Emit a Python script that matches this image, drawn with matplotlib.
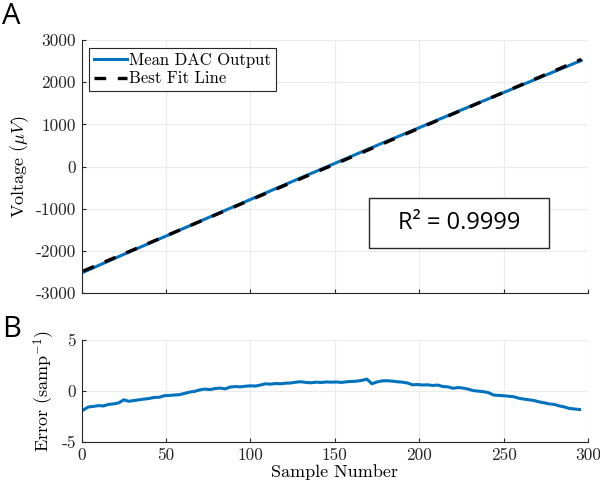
"""
DAC linearity figure: mean output vs best fit (A) and fit error (B)
"""
import numpy as np
import matplotlib
matplotlib.use('Agg')
import matplotlib.pyplot as plt
from matplotlib.patches import Rectangle

# ---------------------------------------------------------------------------------------------------------------------
# Data
# ---------------------------------------------------------------------------------------------------------------------
dac_samples = [1, 25, 50, 75, 100, 125, 150, 175, 200, 225, 250, 275, 296]
dac_output = [-2501, -2077, -1644, -1209, -778, -348, 77, 504, 923, 1343, 1755, 2169, 2514]

err_samples = np.arange(1, 297, 3)
err_values = [-1.85, -1.55, -1.5, -1.42, -1.45, -1.3, -1.25, -1.15, -0.85, -1.0,
              -0.92, -0.85, -0.78, -0.72, -0.62, -0.6, -0.45, -0.42, -0.38, -0.35,
              -0.22, -0.1, -0.02, 0.12, 0.2, 0.15, 0.25, 0.3, 0.22, 0.4,
              0.45, 0.42, 0.48, 0.52, 0.5, 0.6, 0.72, 0.68, 0.75, 0.72,
              0.78, 0.8, 0.88, 0.92, 0.85, 0.82, 0.88, 0.85, 0.9, 0.88,
              0.9, 0.85, 0.92, 0.95, 0.98, 1.05, 1.18, 0.72, 0.9, 1.0,
              1.02, 0.98, 0.92, 0.88, 0.8, 0.62, 0.65, 0.6, 0.62, 0.55,
              0.6, 0.45, 0.42, 0.28, 0.35, 0.3, 0.2, 0.05, 0.0, -0.05,
              -0.15, -0.38, -0.42, -0.45, -0.5, -0.55, -0.7, -0.78, -0.85, -0.92,
              -1.05, -1.15, -1.25, -1.3, -1.45, -1.55, -1.7, -1.75, -1.8]

r_squared = '0.9999'
x_ticks = [0, 50, 100, 150, 200, 250, 300]
v_ticks = [-3000, -2000, -1000, 0, 1000, 2000, 3000]
e_ticks = [-5, 0, 5]

# Best fit from the DAC data
coef = np.polyfit(dac_samples, dac_output, 1)
fit_x = np.array([dac_samples[0], dac_samples[-1]])
fit_y = np.polyval(coef, fit_x)

# ---------------------------------------------------------------------------------------------------------------------
# Style
# ---------------------------------------------------------------------------------------------------------------------
plt.rcParams['font.family'] = 'cmr10'
plt.rcParams['mathtext.fontset'] = 'cm'
plt.rcParams['font.size'] = 12.5
blue = '#0072BD'
axcol = '#262626'
tick_fs = 12.5
label_fs = 13


def style_axes(ax):
    ax.spines['top'].set_visible(False)
    ax.spines['right'].set_visible(False)
    for s in ('left', 'bottom'):
        ax.spines[s].set_color(axcol)
        ax.spines[s].set_linewidth(0.8)
    ax.tick_params(direction='in', length=3, colors=axcol, labelsize=tick_fs, pad=4)
    ax.grid(True, color='#ebebeb', linewidth=0.8)
    ax.set_axisbelow(True)


fig = plt.figure(figsize=(6.0, 4.88), dpi=100)
ax1 = fig.add_axes([0.136, 0.399, 0.844, 0.519])
ax2 = fig.add_axes([0.136, 0.094, 0.844, 0.209])

# ---------------------------------------------------------------------------------------------------------------------
# Panel A
# ---------------------------------------------------------------------------------------------------------------------
ax1.plot(dac_samples, dac_output, color=blue, linewidth=2.2, label='Mean DAC Output')
ax1.plot(fit_x, fit_y, color='black', linewidth=2.4, linestyle=(0, (3.5, 3.5)), label='Best Fit Line')
ax1.set_xlim(0, 300)
ax1.set_ylim(-3000, 3000)
ax1.set_xticks(x_ticks)
ax1.set_xticklabels([])
ax1.set_yticks(v_ticks)
ax1.set_yticklabels([str(v) for v in v_ticks])
ax1.set_ylabel(r'Voltage ($\mu V$)', fontsize=label_fs, labelpad=3)
style_axes(ax1)
leg = ax1.legend(loc='upper left', handlelength=2.0, handletextpad=0.1, borderpad=0.3,
                 labelspacing=0.2, fancybox=False, framealpha=1, fontsize=12,
                 bbox_to_anchor=(0.0, 1.0), borderaxespad=0.45)
leg.get_frame().set_edgecolor(axcol)
leg.get_frame().set_linewidth(0.8)

# R squared box
ax1.add_patch(Rectangle((0.567, 0.178), 0.356, 0.197, transform=ax1.transAxes,
                        facecolor='white', edgecolor=axcol, linewidth=1.0, zorder=5))
ax1.text(0.745, 0.277, 'R² = ' + r_squared, transform=ax1.transAxes, ha='center', va='center',
         family='Open Sans', fontsize=17, zorder=6)

# ---------------------------------------------------------------------------------------------------------------------
# Panel B
# ---------------------------------------------------------------------------------------------------------------------
ax2.plot(err_samples, err_values, color=blue, linewidth=2.2)
ax2.set_xlim(0, 300)
ax2.set_ylim(-5, 5)
ax2.set_xticks(x_ticks)
ax2.set_xticklabels([str(v) for v in x_ticks])
ax2.set_yticks(e_ticks)
ax2.set_yticklabels([str(v) for v in e_ticks])
ax2.set_xlabel('Sample Number', fontsize=label_fs, labelpad=1)
ax2.set_ylabel(r'Error (samp$^{-1}$)', fontsize=label_fs, labelpad=3)
style_axes(ax2)

# Panel letters
fig.text(0.003, 0.995, 'A', family='Open Sans', fontsize=21, va='top', ha='left')
fig.text(0.003, 0.355, 'B', family='Open Sans', fontsize=21, va='top', ha='left')

fig.savefig('out.png', dpi=100)
